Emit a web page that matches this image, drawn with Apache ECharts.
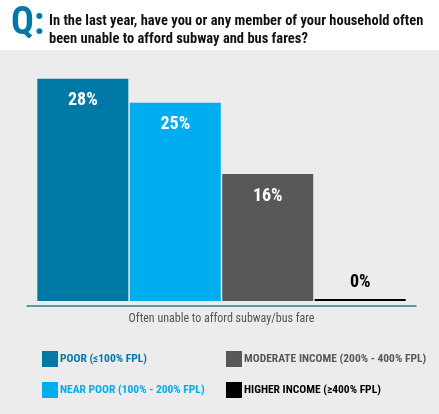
<!DOCTYPE html>
<html>
<head>
<meta charset="utf-8">
<style>html,body{margin:0;padding:0;background:#ececec;}#c{width:439px;height:414px;}</style>
<script src="https://cdn.jsdelivr.net/npm/echarts@6/dist/echarts.min.js"></script>
</head>
<body>
<div id="c"></div>
<script>
const categories = ['Often unable to afford subway/bus fare'];
const seriesNames = ['POOR (≤100% FPL)', 'NEAR POOR (100% - 200% FPL)', 'MODERATE INCOME (200% - 400% FPL)', 'HIGHER INCOME (≥400% FPL)'];
const poor = [28];
const nearPoor = [25];
const moderate = [16];
const higher = [0];
const seriesValues = [poor, nearPoor, moderate, higher];
const colors = ['#0079a7', '#00adee', '#58585a', '#000000'];
const labelColors = ['#ffffff', '#ffffff', '#ffffff', '#000000'];
const titleText = 'In the last year, have you or any member of your household often\nbeen unable to afford subway and bus fares?';

const FONT = '"Liberation Sans Narrow", "Arial Narrow", "Roboto Condensed", "DejaVu Sans Condensed", sans-serif';
const chart = echarts.init(document.getElementById('c'));

const series = seriesNames.map((name, i) => ({
  name: name,
  type: 'bar',
  data: seriesValues[i],
  barWidth: 91,
  barGap: '1.6%',
  barMinHeight: i === 3 ? 2 : 0,
  itemStyle: { color: colors[i] },
  label: {
    show: true,
    position: i === 3 ? 'top' : 'insideTop',
    distance: i === 3 ? 8 : 13,
    formatter: '{c}%',
    color: labelColors[i],
    fontFamily: FONT,
    fontWeight: 'bold',
    fontSize: 18
  }
}));

function legendItems(idx) {
  return idx.map(i => ({ name: seriesNames[i], textStyle: { color: colors[i] } }));
}

chart.setOption({
  backgroundColor: '#ececec',
  animation: false,
  graphic: [{
    type: 'rect', z: -10, left: 0, top: 0,
    shape: { width: 439, height: 50 },
    style: { fill: '#ffffff' }
  }],
  title: [
    { text: 'Q:', left: 6, top: 0, textStyle: { color: '#0079a7', fontFamily: FONT, fontWeight: 'bold', fontSize: 38 } },
    { text: titleText, left: 44, top: 7, textStyle: { color: '#111111', fontFamily: FONT, fontWeight: 'bold', fontSize: 14.5, lineHeight: 18 } }
  ],
  legend: [
    {
      left: 37, top: 346, orient: 'vertical', itemWidth: 16, itemHeight: 16, itemGap: 15,
      icon: 'rect', selectedMode: false,
      textStyle: { fontFamily: FONT, fontWeight: 'bold', fontSize: 11.5, padding: [0, 0, 0, -3] },
      data: legendItems([0, 1])
    },
    {
      left: 221, top: 346, orient: 'vertical', itemWidth: 16, itemHeight: 16, itemGap: 15,
      icon: 'rect', selectedMode: false,
      textStyle: { fontFamily: FONT, fontWeight: 'bold', fontSize: 11.5, padding: [0, 0, 0, -3] },
      data: legendItems([2, 3])
    }
  ],
  grid: { left: 27, right: 23, top: 63, bottom: 113 },
  xAxis: {
    type: 'category',
    data: categories,
    offset: 5,
    axisLine: { onZero: false, lineStyle: { color: '#2a7c9e', width: 1.5 } },
    axisTick: { show: false },
    axisLabel: { color: '#555555', fontFamily: FONT, fontSize: 12, margin: 7 }
  },
  yAxis: {
    type: 'value', min: 0, max: 30,
    show: false,
    splitLine: { show: false }
  },
  series: series
});
</script>
</body>
</html>
